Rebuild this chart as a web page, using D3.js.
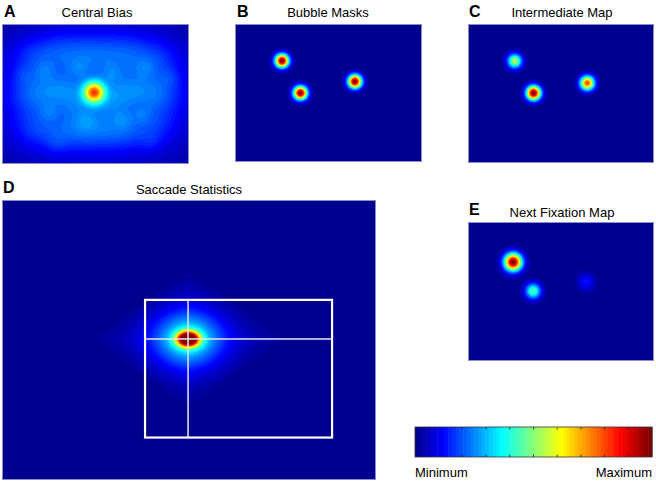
<!DOCTYPE html>
<html>
<head>
<meta charset="utf-8">
<script src="https://cdn.jsdelivr.net/npm/d3@7"></script>
<style>
  html, body { margin: 0; padding: 0; background: #fff; }
  text { font-family: "Liberation Sans", Arial, Helvetica, sans-serif; fill: #000; }
</style>
</head>
<body>
<svg id="chart" width="656" height="484"></svg>
<script>
// ---------- DATA (image coordinates: 800 x 600 stimulus space, values 0..1) ----------
const panelLetters = ["A", "B", "C", "D", "E"];
const panelTitles = ["Central Bias", "Bubble Masks", "Intermediate Map", "Saccade Statistics", "Next Fixation Map"];

// A: central bias = sharp central peak + lumpy broad haze
const biasX   = [394, 400, 130, 260, 400, 540, 670, 120, 250, 540, 680, 140, 270, 400, 530, 660, 330, 470,
                 180, 330, 470, 610, 200, 600, 360, 520, 90, 720, 230, 640];
const biasY   = [293, 300, 140, 120, 130, 125, 150, 300, 285, 285, 300, 450, 470, 460, 465, 440, 360, 350,
                 200, 190, 210, 190, 380, 390, 420, 410, 220, 230, 520, 510];
const biasAmp = [0.6, 0.16, 0.07, 0.08, 0.08, 0.08, 0.07, 0.08, 0.09, 0.09, 0.08, 0.07, 0.07, 0.08, 0.07, 0.06, 0.05, 0.05,
                 0.04, 0.04, 0.04, 0.04, 0.04, 0.04, 0.04, 0.04, 0.03, 0.03, 0.03, 0.03];
const biasSx  = [31, 330, 70, 75, 75, 75, 70, 70, 80, 85, 70, 70, 70, 75, 70, 65, 55, 55,
                 30, 30, 30, 30, 30, 30, 30, 30, 30, 30, 30, 30];
const biasSy  = [31, 230, 60, 60, 60, 60, 60, 65, 55, 55, 65, 60, 55, 55, 55, 60, 50, 50,
                 28, 28, 28, 28, 28, 28, 28, 28, 28, 28, 28, 28];

// B: bubble masks
const bubbleX   = [201, 280, 513];
const bubbleY   = [160, 300, 250];
const bubbleAmp = [1.0, 1.0, 1.0];
const bubbleSig = [21, 21, 21];

// C: intermediate map
const interX   = [201, 282, 513];
const interY   = [160, 298, 255];
const interAmp = [0.55, 1.0, 0.8];
const interSig = [22, 22, 22];

// E: next fixation map
const nextX   = [194, 280, 508];
const nextY   = [173, 298, 259];
const nextAmp = [1.0, 0.45, 0.13];
const nextSig = [27, 24, 26];

// D: saccade statistics (core + halo + diamond), box and crosshair
const saccCenter = [398, 298];
const saccCoreAmp = 1.0,  saccCoreSx = 16, saccCoreSy = 11;
const saccHaloAmp = 0.3,  saccHaloSx = 50, saccHaloSy = 40;
const saccDiamAmp = 0.11, saccDiamRx = 205, saccDiamRy = 145;
const saccBox = [306, 214, 706, 509];   // x0, y0, x1, y1
const crosshair = [398, 298];

// colour bar
const colorbarTicks = [0, 0.1, 0.2, 0.3, 0.4, 0.5, 0.6, 0.7, 0.8, 0.9, 1];
const colorbarLabels = ["Minimum", "Maximum"];

// ---------- MATLAB jet(64) ----------
function jet64() {
  const n = 64, m = Math.ceil(n / 4);
  const u = [];
  for (let i = 1; i <= m; i++) u.push(i / m);
  for (let i = 0; i < m - 1; i++) u.push(1);
  for (let i = m; i >= 1; i--) u.push(i / m);
  const g0 = Math.ceil(m / 2) - (n % 4 === 1 ? 1 : 0);
  const R = new Array(n).fill(0), G = new Array(n).fill(0), B = new Array(n).fill(0);
  for (let k = 0; k < u.length; k++) {
    const g = g0 + k + 1, r = g + m, b = g - m;
    if (r >= 1 && r <= n) R[r - 1] = u[k];
    if (g >= 1 && g <= n) G[g - 1] = u[k];
    if (b >= 1 && b <= n) B[b - 1] = u[k];
  }
  return d3.range(n).map(i => [Math.round(R[i] * 255), Math.round(G[i] * 255), Math.round(B[i] * 255)]);
}
const jet = jet64();
const color = d3.scaleQuantize().domain([0, 1]).range(jet);

// ---------- field functions ----------
function gaussSum(xs, ys, amps, sx, sy) {
  return (x, y) => {
    let v = 0;
    for (let i = 0; i < xs.length; i++) {
      const dx = (x - xs[i]) / sx[i], dy = (y - ys[i]) / sy[i];
      v += amps[i] * Math.exp(-0.5 * (dx * dx + dy * dy));
    }
    return v;
  };
}
const fieldA = gaussSum(biasX, biasY, biasAmp, biasSx, biasSy);
const fieldB = gaussSum(bubbleX, bubbleY, bubbleAmp, bubbleSig, bubbleSig);
const fieldC = gaussSum(interX, interY, interAmp, interSig, interSig);
const fieldE = gaussSum(nextX, nextY, nextAmp, nextSig, nextSig);
const fieldD = (x, y) => {
  const dx = x - saccCenter[0], dy = y - saccCenter[1];
  const core = saccCoreAmp * Math.exp(-0.5 * ((dx / saccCoreSx) ** 2 + (dy / saccCoreSy) ** 2));
  const halo = saccHaloAmp * Math.exp(-0.5 * ((dx / saccHaloSx) ** 2 + (dy / saccHaloSy) ** 2));
  const l1 = Math.abs(dx) / saccDiamRx + Math.abs(dy) / saccDiamRy;
  const diam = l1 < 1 ? saccDiamAmp * (0.12 + 0.88 * Math.pow(1 - l1, 1.1)) : 0;
  return Math.min(1, core + halo + diam);
};

// ---------- layout ----------
const panels = [
  { x: 2,   y: 24,  w: 187, h: 140, f: fieldA, lx: 4,   ly: 17,  tx: 97,  ty: 17 },
  { x: 235, y: 24,  w: 187, h: 138, f: fieldB, lx: 237, ly: 17,  tx: 328, ty: 17 },
  { x: 468, y: 24,  w: 186, h: 139, f: fieldC, lx: 469, ly: 17,  tx: 562, ty: 17 },
  { x: 2,   y: 200, w: 374, h: 280, f: fieldD, lx: 3,   ly: 193, tx: 189, ty: 194 },
  { x: 468, y: 222, w: 186, h: 139, f: fieldE, lx: 469, ly: 215, tx: 562, ty: 217 }
];

const svg = d3.select("#chart");

panels.forEach((p, idx) => {
  const xs = d3.scaleLinear().domain([0, 800]).range([0, p.w]);
  const ys = d3.scaleLinear().domain([0, 600]).range([0, p.h]);
  const cv = document.createElement("canvas");
  cv.width = p.w; cv.height = p.h;
  const ctx = cv.getContext("2d");
  const img = ctx.createImageData(p.w, p.h);
  for (let j = 0; j < p.h; j++) {
    for (let i = 0; i < p.w; i++) {
      const v = Math.max(0, Math.min(1, p.f(xs.invert(i + 0.5), ys.invert(j + 0.5))));
      const c = color(Math.min(v, 0.9999));
      const k = (j * p.w + i) * 4;
      img.data[k] = c[0]; img.data[k + 1] = c[1]; img.data[k + 2] = c[2]; img.data[k + 3] = 255;
    }
  }
  ctx.putImageData(img, 0, 0);
  const g = svg.append("g").attr("transform", `translate(${p.x},${p.y})`);
  g.append("image")
    .attr("width", p.w).attr("height", p.h)
    .attr("preserveAspectRatio", "none")
    .attr("href", cv.toDataURL());
  g.append("rect")
    .attr("x", 0.5).attr("y", 0.5).attr("width", p.w - 1).attr("height", p.h - 1)
    .attr("fill", "none").attr("stroke", "#8c8cc8").attr("stroke-width", 1);

  svg.append("text").attr("x", p.lx).attr("y", p.ly)
    .attr("font-size", 16).attr("font-weight", "bold").text(panelLetters[idx]);
  svg.append("text").attr("x", p.tx).attr("y", p.ty)
    .attr("font-size", 13).attr("text-anchor", "middle").text(panelTitles[idx]);

  if (idx === 3) {
    g.append("rect")
      .attr("x", xs(saccBox[0])).attr("y", ys(saccBox[1]))
      .attr("width", xs(saccBox[2]) - xs(saccBox[0]))
      .attr("height", ys(saccBox[3]) - ys(saccBox[1]))
      .attr("fill", "none").attr("stroke", "#ffffff").attr("stroke-width", 2.2);
    g.append("line")
      .attr("x1", xs(crosshair[0])).attr("x2", xs(crosshair[0]))
      .attr("y1", ys(saccBox[1])).attr("y2", ys(saccBox[3]))
      .attr("stroke", "#e6e6f2").attr("stroke-width", 1.5);
    g.append("line")
      .attr("x1", xs(saccBox[0])).attr("x2", xs(saccBox[2]))
      .attr("y1", ys(crosshair[1])).attr("y2", ys(crosshair[1]))
      .attr("stroke", "#e6e6f2").attr("stroke-width", 1.5);
  }
});

// ---------- colour bar ----------
const cb = { x: 415, y: 427, w: 237, h: 30 };
const cbScale = d3.scaleLinear().domain([0, 1]).range([0, cb.w]);
const cbg = svg.append("g").attr("transform", `translate(${cb.x},${cb.y})`);
const nBins = jet.length;
cbg.selectAll("rect.bin").data(jet).enter().append("rect")
  .attr("class", "bin")
  .attr("x", (d, i) => cbScale(i / nBins))
  .attr("width", (d, i) => cbScale((i + 1) / nBins) - cbScale(i / nBins) + 0.5)
  .attr("y", 0).attr("height", cb.h)
  .attr("fill", d => `rgb(${d[0]},${d[1]},${d[2]})`);
const innerTicks = colorbarTicks.filter(t => t > 0 && t < 1);
cbg.selectAll("line.tt").data(innerTicks).enter().append("line")
  .attr("x1", d => cbScale(d)).attr("x2", d => cbScale(d))
  .attr("y1", 0).attr("y2", 2.5).attr("stroke", "#222").attr("stroke-width", 0.8);
cbg.selectAll("line.tb").data(innerTicks).enter().append("line")
  .attr("x1", d => cbScale(d)).attr("x2", d => cbScale(d))
  .attr("y1", cb.h - 2.5).attr("y2", cb.h).attr("stroke", "#222").attr("stroke-width", 0.8);
cbg.append("rect").attr("x", 0).attr("y", 0).attr("width", cb.w).attr("height", cb.h)
  .attr("fill", "none").attr("stroke", "#333").attr("stroke-width", 0.8);

svg.append("text").attr("x", cb.x).attr("y", 477).attr("font-size", 13).text(colorbarLabels[0]);
svg.append("text").attr("x", cb.x + cb.w).attr("y", 477).attr("font-size", 13)
  .attr("text-anchor", "end").text(colorbarLabels[1]);
</script>
</body>
</html>
